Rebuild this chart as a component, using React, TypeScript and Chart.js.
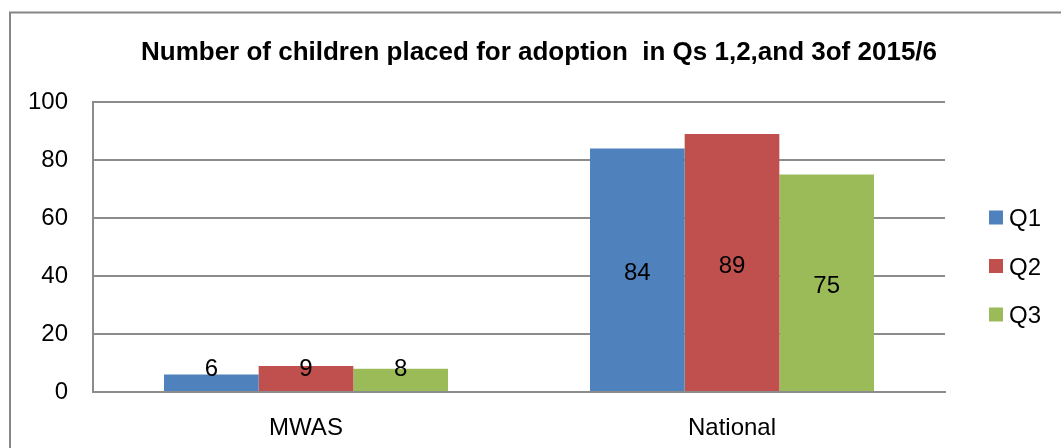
import React, { useEffect, useRef } from "react";
import { Chart, registerables } from "chart.js";

Chart.register(...registerables);

const categories = ["MWAS", "National"];
const seriesNames = ["Q1", "Q2", "Q3"];
const q1Values = [6, 84];
const q2Values = [9, 89];
const q3Values = [8, 75];
const seriesColors = ["#4F81BD", "#C0504D", "#9BBB59"];
const yMin = 0;
const yMax = 100;
const yStep = 20;
const titleText = "Number of children placed for adoption  in Qs 1,2,and 3of 2015/6";

const FONT = "'Liberation Sans', Arial, sans-serif";
const GRID = "#8c8c8c";
const FS = 24;

const decorPlugin = {
  id: "decor",
  beforeDraw(chart: any) {
    const ctx = chart.ctx;
    ctx.save();
    ctx.fillStyle = "#ffffff";
    ctx.fillRect(0, 0, chart.width, chart.height);
    ctx.strokeStyle = "#868686";
    ctx.lineWidth = 2;
    ctx.strokeRect(10, 12.5, chart.width + 20, chart.height + 20);
    ctx.restore();
  },
  afterDraw(chart: any) {
    const ctx = chart.ctx;
    ctx.save();
    // title
    ctx.fillStyle = "#000000";
    ctx.font = `bold 26px ${FONT}`;
    ctx.textAlign = "center";
    ctx.textBaseline = "middle";
    ctx.fillText(titleText, 539, 53);
    // data labels
    ctx.font = `${FS}px ${FONT}`;
    chart.data.datasets.forEach((ds: any, di: number) => {
      const meta = chart.getDatasetMeta(di);
      meta.data.forEach((bar: any, i: number) => {
        const p = bar.getProps(["x", "y", "base"], true);
        const y = Math.min((p.y + p.base) / 2, p.base - 26) + 4;
        ctx.fillText(String(ds.data[i]), p.x, y);
      });
    });
    // legend
    ctx.textAlign = "left";
    seriesNames.forEach((name, i) => {
      const cy = 217.5 + i * 48.5;
      ctx.fillStyle = seriesColors[i];
      ctx.fillRect(989, cy - 7, 14, 14);
      ctx.fillStyle = "#000000";
      ctx.fillText(name, 1009, cy + 2);
    });
    ctx.restore();
  },
};

export default function App() {
  const ref = useRef<HTMLCanvasElement | null>(null);
  useEffect(() => {
    document.body.style.margin = "0";
    const canvas = ref.current!;
    const chart = new Chart(canvas, {
      type: "bar",
      data: {
        labels: categories,
        datasets: [q1Values, q2Values, q3Values].map((d, i) => ({
          label: seriesNames[i],
          data: d,
          backgroundColor: seriesColors[i],
          borderWidth: 0,
          categoryPercentage: 2 / 3,
          barPercentage: 1,
        })),
      },
      options: {
        responsive: false,
        animation: false,
        devicePixelRatio: 1,
        layout: { padding: { top: 102, right: 116, left: 0, bottom: 0 } },
        plugins: {
          legend: { display: false },
          title: { display: false },
          tooltip: { enabled: false },
        },
        scales: {
          x: {
            grid: { display: false, drawTicks: false },
            border: { display: true, color: GRID, width: 2 },
            ticks: { color: "#000", font: { family: FONT, size: FS }, padding: 22 },
            afterFit(scale: any) {
              scale.height = 56;
            },
          },
          y: {
            min: yMin,
            max: yMax,
            grid: { color: GRID, lineWidth: 2, drawTicks: false },
            border: { display: true, color: GRID, width: 2 },
            ticks: { stepSize: yStep, color: "#000", font: { family: FONT, size: FS }, padding: 25 },
            afterFit(scale: any) {
              scale.width = 93;
            },
          },
        },
      },
      plugins: [decorPlugin],
    });
    return () => chart.destroy();
  }, []);
  return (
    <div style={{ width: 1061, height: 448 }}>
      <canvas ref={ref} width={1061} height={448} style={{ display: "block" }} />
    </div>
  );
}
